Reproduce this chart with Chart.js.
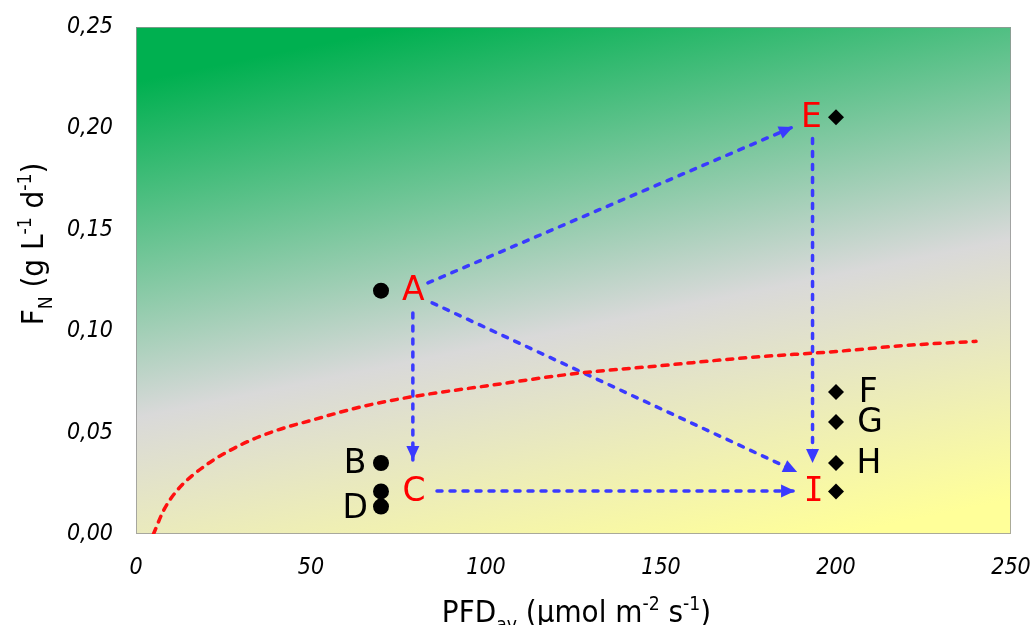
<!DOCTYPE html>
<html>
<head>
<meta charset="utf-8">
<script src="https://cdn.jsdelivr.net/npm/chart.js@4"></script>
<style>
  html, body { margin: 0; padding: 0; background: #fff; }
  #wrap { width: 1035px; height: 625px; }
</style>
</head>
<body>
<div id="wrap"><canvas id="fnChart" width="1035" height="625"></canvas></div>
<script>
// Werte
const xTicks = [0, 50, 100, 150, 200, 250];
const yTicks = [0, 0.05, 0.10, 0.15, 0.20, 0.25];

// Kreise bei PFD = 70 (A, B, C, D)
const circleX = [70, 70, 70, 70];
const circleY = [0.120, 0.035, 0.021, 0.0135];

// Rauten bei PFD = 200 (E, F, G, H, I)
const diamondX = [200, 200, 200, 200, 200];
const diamondY = [0.2055, 0.070, 0.0552, 0.035, 0.021];

// rote gestrichelte Kurve
const curveX = [5, 8, 12, 20, 30, 40, 50, 65, 80, 100, 125, 150, 175, 200, 220, 240];
const curveY = [0, 0.012, 0.022, 0.034, 0.044, 0.051, 0.056, 0.063, 0.068, 0.073, 0.079, 0.083, 0.087, 0.090, 0.093, 0.095];

// Pfeile: Start und Spitze
const arrowFromX = [83.4, 84.6, 79.1, 86.0, 193.3];
const arrowFromY = [0.1238, 0.1140, 0.1090, 0.0212, 0.1950];
const arrowToX   = [187.7, 188.9, 79.1, 188.3, 193.3];
const arrowToY   = [0.2007, 0.0306, 0.0365, 0.0212, 0.0350];

// Buchstaben
const labelText  = ['A', 'C', 'E', 'I', 'B', 'D', 'F', 'G', 'H'];
const labelX     = [79.2, 79.4, 193.0, 193.6, 62.6, 62.6, 209.2, 209.7, 209.4];
const labelY     = [0.120, 0.021, 0.2055, 0.021, 0.035, 0.0128, 0.070, 0.0548, 0.035];
const labelRed   = [true, true, true, true, false, false, false, false, false];

const FONT = "'DejaVu Sans', Verdana, sans-serif";
const TITLE_FONT = "'DejaVu Sans Condensed', 'DejaVu Sans', sans-serif";
const TICK_FONT = "'DejaVu Sans Condensed', 'DejaVu Sans', sans-serif";
const BLUE = 'rgb(58,58,255)';

function toPoints(xs, ys) {
    return xs.map((x, i) => ({ x: x, y: ys[i] }));
}

const arrowSets = arrowFromX.map((x, i) => ({
    type: 'line',
    data: [{ x: x, y: arrowFromY[i] }, { x: arrowToX[i], y: arrowToY[i] }],
    borderColor: BLUE,
    borderWidth: 3.5,
    borderDash: [5, 8],
    borderCapStyle: 'round',
    pointRadius: 0,
    fill: false
}));

// Hintergrund mit Farbverlauf + Rahmen
const bgPlugin = {
    id: 'bg',
    beforeDatasetsDraw(chart) {
        const { ctx, chartArea: a } = chart;
        const cx = (a.left + a.right) / 2, cy = (a.top + a.bottom) / 2;
        const dx = 0.2, dy = 0.98;
        const L = dx * (a.right - a.left) / 2 + dy * (a.bottom - a.top) / 2;
        const g = ctx.createLinearGradient(cx - dx * L, cy - dy * L, cx + dx * L, cy + dy * L);
        g.addColorStop(0, '#00b050');
        g.addColorStop(0.08, '#00b050');
        g.addColorStop(0.57, '#d9d9d9');
        g.addColorStop(0.95, '#ffff99');
        g.addColorStop(1, '#ffff99');
        ctx.save();
        ctx.fillStyle = g;
        ctx.fillRect(a.left, a.top, a.right - a.left, a.bottom - a.top);
        ctx.strokeStyle = 'rgba(150,150,150,0.8)';
        ctx.lineWidth = 1;
        ctx.strokeRect(a.left + 0.5, a.top + 0.5, a.right - a.left - 1, a.bottom - a.top - 1);
        ctx.restore();
    }
};

function drawRich(ctx, parts, size) {
    let w = 0;
    parts.forEach(p => {
        const s = p.m === 'n' ? size : size * 0.62;
        ctx.font = s + 'px ' + TITLE_FONT;
        p.w = ctx.measureText(p.t).width;
        w += p.w;
    });
    let x = -w / 2;
    parts.forEach(p => {
        const s = p.m === 'n' ? size : size * 0.62;
        ctx.font = s + 'px ' + TITLE_FONT;
        let off = 0;
        if (p.m === 'sub') off = size * 0.28;
        if (p.m === 'sup') off = -size * 0.4;
        ctx.fillText(p.t, x, off);
        x += p.w;
    });
}

// Pfeilspitzen, Buchstaben, Achsentitel
const overlayPlugin = {
    id: 'overlay',
    afterDatasetsDraw(chart) {
        const { ctx, scales: { x, y }, chartArea: a } = chart;
        ctx.save();
        // Pfeilspitzen
        arrowToX.forEach((tx, i) => {
            const px = x.getPixelForValue(tx), py = y.getPixelForValue(arrowToY[i]);
            const sx = x.getPixelForValue(arrowFromX[i]), sy = y.getPixelForValue(arrowFromY[i]);
            const ang = Math.atan2(py - sy, px - sx);
            const len = 14, half = 6.5;
            ctx.fillStyle = BLUE;
            ctx.beginPath();
            ctx.moveTo(px, py);
            ctx.lineTo(px - len * Math.cos(ang) + half * Math.sin(ang), py - len * Math.sin(ang) - half * Math.cos(ang));
            ctx.lineTo(px - len * Math.cos(ang) - half * Math.sin(ang), py - len * Math.sin(ang) + half * Math.cos(ang));
            ctx.closePath();
            ctx.fill();
        });
        // Buchstaben
        ctx.textAlign = 'center';
        ctx.textBaseline = 'middle';
        labelText.forEach((t, i) => {
            ctx.fillStyle = labelRed[i] ? '#ff0000' : '#000000';
            ctx.font = t === 'I' ? "33px 'DejaVu Sans Mono', monospace" : '33px ' + FONT;
            ctx.fillText(t, x.getPixelForValue(labelX[i]), y.getPixelForValue(labelY[i]) + 1);
        });
        ctx.restore();

        // Achsentitel
        ctx.save();
        ctx.fillStyle = '#000';
        ctx.textAlign = 'left';
        ctx.textBaseline = 'alphabetic';
        ctx.translate((a.left + a.right) / 2 + 3, 622);
        drawRich(ctx, [
            { t: 'PFD', m: 'n' }, { t: 'av', m: 'sub' }, { t: ' (µmol m', m: 'n' },
            { t: '-2', m: 'sup' }, { t: ' s', m: 'n' }, { t: '-1', m: 'sup' }, { t: ')', m: 'n' }
        ], 31);
        ctx.restore();

        ctx.save();
        ctx.fillStyle = '#000';
        ctx.textAlign = 'left';
        ctx.textBaseline = 'alphabetic';
        ctx.translate(43, 244);
        ctx.rotate(-Math.PI / 2);
        drawRich(ctx, [
            { t: 'F', m: 'n' }, { t: 'N', m: 'sub' }, { t: ' (g L', m: 'n' },
            { t: '-1', m: 'sup' }, { t: ' d', m: 'n' }, { t: '-1', m: 'sup' }, { t: ')', m: 'n' }
        ], 31);
        ctx.restore();
    }
};

const ctx = document.getElementById('fnChart').getContext('2d');
new Chart(ctx, {
    type: 'scatter',
    data: {
        datasets: [
            {
                type: 'line',
                data: toPoints(curveX, curveY),
                borderColor: '#ff1010',
                borderWidth: 3.5,
                borderDash: [6, 7],
                borderCapStyle: 'round',
                pointRadius: 0,
                cubicInterpolationMode: 'monotone',
                fill: false
            },
            ...arrowSets,
            {
                data: toPoints(circleX, circleY),
                pointStyle: 'circle',
                pointRadius: 8,
                backgroundColor: '#000',
                borderColor: '#000',
                borderWidth: 0
            },
            {
                data: toPoints(diamondX, diamondY),
                pointStyle: 'rectRot',
                pointRadius: 8,
                backgroundColor: '#000',
                borderColor: '#000',
                borderWidth: 0
            }
        ]
    },
    options: {
        responsive: false,
        animation: false,
        layout: { padding: { top: 27, right: 24, left: 0, bottom: 0 } },
        plugins: { legend: { display: false }, tooltip: { enabled: false } },
        scales: {
            x: {
                type: 'linear',
                min: 0, max: 250,
                afterBuildTicks: s => { s.ticks = xTicks.map(v => ({ value: v })); },
                afterFit: s => { s.height = 91; s.paddingLeft = 0; s.paddingRight = 0; },
                grid: { display: false, drawTicks: false },
                border: { display: false },
                ticks: {
                    padding: 20,
                    color: '#000',
                    font: { family: TICK_FONT, size: 23, style: 'italic' },
                    callback: v => String(v)
                }
            },
            y: {
                type: 'linear',
                min: 0, max: 0.25,
                afterBuildTicks: s => { s.ticks = yTicks.map(v => ({ value: v })); },
                afterFit: s => { s.width = 136; s.paddingTop = 0; s.paddingBottom = 0; },
                grid: { display: false, drawTicks: false },
                border: { display: false },
                ticks: {
                    padding: 23,
                    color: '#000',
                    font: { family: TICK_FONT, size: 23, style: 'italic' },
                    callback: v => v.toFixed(2).replace('.', ',')
                }
            }
        }
    },
    plugins: [bgPlugin, overlayPlugin]
});
</script>
</body>
</html>
